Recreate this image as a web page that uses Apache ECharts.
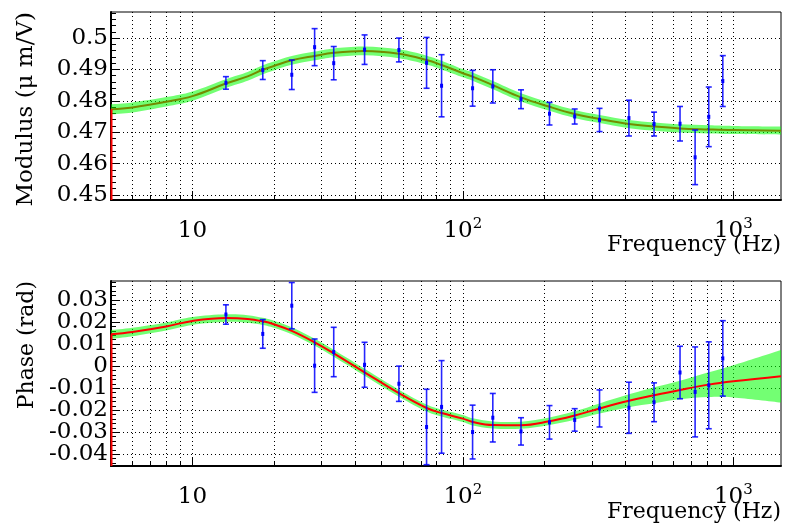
<!DOCTYPE html>
<html>
<head>
<meta charset="utf-8">
<script src="https://cdn.jsdelivr.net/npm/echarts@6/dist/echarts.min.js"></script>
<style>
  html, body { margin: 0; background: #fff; }
  #chart { width: 785px; height: 529px; }
</style>
</head>
<body>
<div id="chart"></div>
<script>
// fit curve, sampled at these frequencies (Hz)
const curveFreq = [5, 6, 8, 10, 13.3, 16, 18.2, 20, 23.3, 28.3, 33.3, 43.3, 58, 73.4, 83.4, 100, 108.6, 129, 164, 209, 259, 320, 411, 509, 635, 811, 1000, 1500];
const modulusCurve = [0.4773, 0.4779, 0.4797, 0.4815, 0.4855, 0.4878, 0.4899, 0.4911, 0.4929, 0.4943, 0.4953, 0.4959, 0.4950, 0.4930, 0.4914, 0.4888, 0.4877, 0.4850, 0.4811, 0.4781, 0.4758, 0.4742, 0.4726, 0.4718, 0.4712, 0.4709, 0.4707, 0.4705];
const modulusBand = [0.0016, 0.0016, 0.0015, 0.0015, 0.0014, 0.0014, 0.0014, 0.0014, 0.0014, 0.0014, 0.0014, 0.0014, 0.0014, 0.0014, 0.0014, 0.0013, 0.0013, 0.0013, 0.0013, 0.0013, 0.0013, 0.0013, 0.0013, 0.0013, 0.0013, 0.0013, 0.0013, 0.0013];
const phaseCurve = [0.0144, 0.0155, 0.0180, 0.0205, 0.0218, 0.0214, 0.0203, 0.0190, 0.0160, 0.0108, 0.0058, -0.0028, -0.0123, -0.0190, -0.0213, -0.0238, -0.0253, -0.0267, -0.0268, -0.0250, -0.0224, -0.0192, -0.0157, -0.0132, -0.0108, -0.0084, -0.0069, -0.0046];
const phaseBand = [0.0020, 0.0019, 0.0018, 0.0018, 0.0017, 0.0017, 0.0016, 0.0016, 0.0016, 0.0016, 0.0016, 0.0016, 0.0016, 0.0016, 0.0016, 0.0016, 0.0016, 0.0016, 0.0016, 0.0017, 0.0019, 0.0023, 0.0029, 0.0036, 0.0042, 0.0056, 0.0073, 0.0119];

// measured points with errors
const pointFreq = [13.3, 18.2, 23.3, 28.3, 33.3, 43.3, 58, 73.4, 83.4, 108.6, 129, 164, 209, 259, 320, 411, 509, 635, 722, 811, 914];
const modulusValues = [0.4857, 0.4898, 0.4883, 0.4971, 0.4920, 0.4963, 0.4962, 0.4921, 0.4848, 0.4840, 0.4846, 0.4805, 0.4759, 0.4750, 0.4739, 0.4745, 0.4726, 0.4727, 0.4620, 0.4749, 0.4863];
const modulusErrors = [0.0020, 0.0030, 0.0047, 0.0059, 0.0053, 0.0047, 0.0038, 0.0081, 0.0099, 0.0057, 0.0053, 0.0030, 0.0036, 0.0024, 0.0037, 0.0057, 0.0038, 0.0055, 0.0087, 0.0095, 0.0081];
const phaseValues = [0.0234, 0.0146, 0.0274, 0.0002, 0.0064, 0.0006, -0.0080, -0.0276, -0.0185, -0.0299, -0.0234, -0.0296, -0.0255, -0.0244, -0.0192, -0.0189, -0.0164, -0.0029, -0.0117, -0.0087, 0.0035];
const phaseErrors = [0.0044, 0.0065, 0.0105, 0.0121, 0.0112, 0.0102, 0.0080, 0.0171, 0.0210, 0.0122, 0.0110, 0.0062, 0.0076, 0.0051, 0.0084, 0.0116, 0.0088, 0.0119, 0.0204, 0.0197, 0.0171];

// axes
const freqMajorTicks = [10, 100, 1000];
const freqLabelBase = ['10', '10', '10'];
const freqLabelExp = ['', '2', '3'];
const freqAllTicks = [5, 6, 7, 8, 9, 10, 20, 30, 40, 50, 60, 70, 80, 90, 100, 200, 300, 400, 500, 600, 700, 800, 900, 1000];
const modulusTicks = [0.45, 0.46, 0.47, 0.48, 0.49, 0.5];
const modulusTickLabels = ['0.45', '0.46', '0.47', '0.48', '0.49', '0.5'];
const phaseTicks = [-0.04, -0.03, -0.02, -0.01, 0, 0.01, 0.02, 0.03];
const phaseTickLabels = ['-0.04', '-0.03', '-0.02', '-0.01', '0', '0.01', '0.02', '0.03'];

const FONT = 'DejaVu Serif';
const panels = [
  { top: 12, height: 188, min: 0.4484, max: 0.5083, ticks: modulusTicks, labels: modulusTickLabels, labelSize: 23,
    curve: modulusCurve, band: modulusBand, values: modulusValues, errors: modulusErrors, lineOnTop: false },
  { top: 281, height: 185, min: -0.0453, max: 0.0386, ticks: phaseTicks, labels: phaseTickLabels, labelSize: 23,
    curve: phaseCurve, band: phaseBand, values: phaseValues, errors: phaseErrors, lineOnTop: true }
];

function minorTicks(min, max, step) {
  const out = [];
  for (let v = Math.ceil(min / step) * step; v <= max; v += step) out.push(+v.toFixed(4));
  return out;
}

// catmull-rom through pixel points
function curveSegs(p) {
  let s = '';
  for (let i = 0; i < p.length - 1; i++) {
    const p0 = p[i - 1] || p[i], p1 = p[i], p2 = p[i + 1], p3 = p[i + 2] || p2;
    s += 'C' + (p1[0] + (p2[0] - p0[0]) / 6) + ' ' + (p1[1] + (p2[1] - p0[1]) / 6) + ' ' +
      (p2[0] - (p3[0] - p1[0]) / 6) + ' ' + (p2[1] - (p3[1] - p1[1]) / 6) + ' ' + p2[0] + ' ' + p2[1];
  }
  return s;
}

const grid = [], xAxis = [], yAxis = [], series = [];
panels.forEach((p, i) => {
  grid.push({ left: 111, top: p.top, width: 670, height: p.height, show: true,
    borderColor: '#000', borderWidth: 1, containLabel: false, outerBoundsMode: 'none' });

  // minor freq ticks + grid lines
  const xi = xAxis.length;
  xAxis.push({ type: 'log', logBase: 10, gridIndex: i, min: 5, max: 1500, position: 'bottom',
    axisLine: { show: true, onZero: false, lineStyle: { color: '#000', width: 2 } },
    axisTick: { show: true, inside: true, length: 5, customValues: freqAllTicks, lineStyle: { color: '#000' } },
    axisLabel: { show: false },
    splitLine: { show: true, lineStyle: { color: '#000', type: [1, 3], width: 1 } } });
  // major freq ticks + labels
  xAxis.push({ type: 'log', logBase: 10, gridIndex: i, min: 5, max: 1500, position: 'bottom',
    axisLine: { show: false, onZero: false },
    axisTick: { show: true, inside: true, length: 9, customValues: freqMajorTicks, lineStyle: { color: '#000' } },
    axisLabel: { show: true, customValues: freqMajorTicks, margin: 17, showMinLabel: true, showMaxLabel: true,
      formatter: v => {
        const k = freqMajorTicks.findIndex(t => Math.abs(t - v) < 1e-6);
        return '{b|' + freqLabelBase[k] + '}' + (freqLabelExp[k] ? '{s|' + freqLabelExp[k] + '}' : '');
      },
      rich: {
        b: { fontFamily: FONT, fontSize: 23, color: '#000', lineHeight: 28 },
        s: { fontFamily: FONT, fontSize: 15, color: '#000', lineHeight: 15, verticalAlign: 'top' }
      } },
    splitLine: { show: false } });

  // major value ticks, split over two axes so neighbouring labels are never dropped
  const yi = yAxis.length;
  [0, 1].forEach(part => {
    const vals = p.ticks.filter((t, k) => k % 2 === part);
    yAxis.push({ type: 'value', gridIndex: i, min: p.min, max: p.max, position: 'left',
      axisLine: { show: part === 0, onZero: false, lineStyle: { color: '#000', width: 2 } },
      axisTick: { show: true, inside: true, length: 9, customValues: vals, lineStyle: { color: '#000' } },
      axisLabel: { show: true, customValues: vals, margin: 3, fontFamily: FONT, fontSize: p.labelSize, color: '#000',
        showMinLabel: true, showMaxLabel: true,
        formatter: v => p.labels[p.ticks.findIndex(t => Math.abs(t - v) < 1e-9)] },
      splitLine: { show: true, lineStyle: { color: '#000', type: [1, 3], width: 1 } } });
  });
  yAxis.push({ type: 'value', gridIndex: i, min: p.min, max: p.max, position: 'left',
    axisLine: { show: false, onZero: false },
    axisTick: { show: true, inside: true, length: 5, customValues: minorTicks(p.min, p.max, 0.002), lineStyle: { color: '#000' } },
    axisLabel: { show: false }, splitLine: { show: false } });

  series.push({ type: 'line', xAxisIndex: xi, yAxisIndex: yi, smooth: 0.4, showSymbol: false, silent: true,
    z: p.lineOnTop ? 4 : 2,
    lineStyle: { color: '#ff0000', width: 2 },
    data: curveFreq.map((f, k) => [f, p.curve[k]]) });
  // error band, plus the red edge the fit leaves on the left axis
  series.push({ type: 'custom', xAxisIndex: xi, yAxisIndex: yi, silent: true, z: 3,
    encode: { x: 0, y: [1, 2] },
    data: curveFreq.map((f, k) => [f, p.curve[k] - p.band[k], p.curve[k] + p.band[k]]),
    renderItem: (params, api) => {
      if (params.dataIndex !== 0) return;
      const up = curveFreq.map((f, k) => api.coord([f, p.curve[k] + p.band[k]]));
      const lo = curveFreq.map((f, k) => api.coord([f, p.curve[k] - p.band[k]])).reverse();
      const d = 'M' + up[0][0] + ' ' + up[0][1] + curveSegs(up) +
        'L' + lo[0][0] + ' ' + lo[0][1] + curveSegs(lo) + 'Z';
      const e0 = api.coord([curveFreq[0], p.min]), e1 = api.coord([curveFreq[0], p.curve[0]]);
      return { type: 'group', children: [
        { type: 'path', shape: { pathData: d }, style: { fill: 'rgba(0, 255, 0, 0.55)', stroke: null } },
        { type: 'line', z2: 10, shape: { x1: e0[0] + 0.5, y1: e0[1], x2: e1[0] + 0.5, y2: e1[1] },
          style: { stroke: '#ff0000', lineWidth: 2 } }
      ] };
    } });
  series.push({ type: 'custom', xAxisIndex: xi, yAxisIndex: yi, silent: true, z: 5,
    encode: { x: 0, y: [1, 2] },
    data: pointFreq.map((f, k) => [f, p.values[k] - p.errors[k], p.values[k] + p.errors[k], p.values[k]]),
    renderItem: (params, api) => {
      const x = api.value(0);
      const a = api.coord([x, api.value(1)]), b = api.coord([x, api.value(2)]), c = api.coord([x, api.value(3)]);
      const st = { stroke: '#0000ff', lineWidth: 1.6, opacity: 0.85 };
      return { type: 'group', children: [
        { type: 'line', shape: { x1: a[0], y1: a[1], x2: b[0], y2: b[1] }, style: st },
        { type: 'line', shape: { x1: a[0] - 3, y1: a[1], x2: a[0] + 3, y2: a[1] }, style: st },
        { type: 'line', shape: { x1: b[0] - 3, y1: b[1], x2: b[0] + 3, y2: b[1] }, style: st },
        { type: 'rect', shape: { x: c[0] - 1.5, y: c[1] - 2, width: 3, height: 4 }, style: { fill: '#0000ff' } }
      ] };
    } });
});

const chart = echarts.init(document.getElementById('chart'), null, { renderer: 'canvas' });
chart.setOption({
  animation: false,
  backgroundColor: '#fff',
  grid, xAxis, yAxis, series,
  graphic: [
    { type: 'text', x: 26, y: 12, rotation: Math.PI / 2,
      style: { text: 'Modulus (μ m/V)', fontFamily: FONT, fontSize: 23, fill: '#000', textAlign: 'right', textVerticalAlign: 'middle' } },
    { type: 'text', x: 27, y: 281, rotation: Math.PI / 2,
      style: { text: 'Phase (rad)', fontFamily: FONT, fontSize: 22, fill: '#000', textAlign: 'right', textVerticalAlign: 'middle' } },
    { type: 'text', x: 781, y: 245,
      style: { text: 'Frequency (Hz)', fontFamily: FONT, fontSize: 22, fill: '#000', textAlign: 'right', textVerticalAlign: 'middle' } },
    { type: 'text', x: 781, y: 512,
      style: { text: 'Frequency (Hz)', fontFamily: FONT, fontSize: 22, fill: '#000', textAlign: 'right', textVerticalAlign: 'middle' } }
  ]
});
</script>
</body>
</html>
